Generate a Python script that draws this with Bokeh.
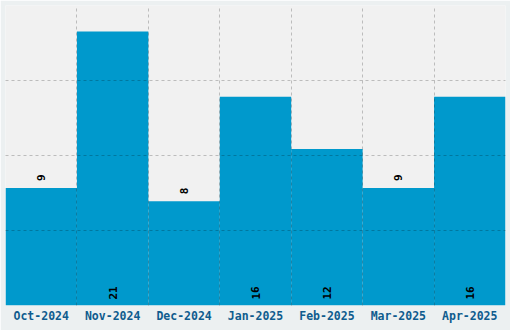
from bokeh.plotting import figure
from bokeh.models import ColumnDataSource, FixedTicker, Grid, LabelSet, Range1d
from bokeh.core.properties import value
from bokeh.embed import file_html
from bokeh.resources import INLINE

months = ["Oct-2024", "Nov-2024", "Dec-2024", "Jan-2025", "Feb-2025", "Mar-2025", "Apr-2025"]
values = [9, 21, 8, 16, 12, 9, 16]

n = len(months)
xs = [i + 0.5 for i in range(n)]
ymax = 23.0
threshold = 10

out_x = [x for x, v in zip(xs, values) if v < threshold]
out_v = [v for v in values if v < threshold]
in_x = [x for x, v in zip(xs, values) if v >= threshold]
in_v = [v for v in values if v >= threshold]

src = ColumnDataSource(dict(x=xs, top=values))
src_out = ColumnDataSource(dict(x=out_x, y=out_v, t=[str(v) for v in out_v]))
src_in = ColumnDataSource(dict(x=in_x, y=[0] * len(in_x), t=[str(v) for v in in_v]))

p = figure(width=510, height=330, output_backend="svg", toolbar_location=None,
           x_range=Range1d(0, n), y_range=Range1d(0, ymax),
           y_axis_location=None,
           min_border_left=5, min_border_right=5, min_border_top=5, min_border_bottom=25)

# drop any default horizontal grid
p.center = [r for r in p.center if not (isinstance(r, Grid) and r.dimension == 1)]

p.background_fill_color = "#f1f1f1"
p.border_fill_color = "#ecf0f1"
p.outline_line_color = None

p.vbar(x="x", top="top", width=1.0, bottom=0, source=src,
       fill_color="#0099cc", line_color=None)

FONT = "DejaVu Sans Mono"

ax = p.xaxis[0]
ax.ticker = FixedTicker(ticks=xs)
ax.major_label_overrides = {x: m for x, m in zip(xs, months)}
ax.axis_line_color = None
ax.major_tick_line_color = None
ax.minor_tick_line_color = None
ax.major_tick_out = 0
ax.major_tick_in = 0
ax.major_label_standoff = 3
ax.major_label_text_font = FONT
ax.major_label_text_font_style = "bold"
ax.major_label_text_font_size = "11.5px"
ax.major_label_text_color = "#0f5c8e"

xg = p.xgrid[0]
xg.ticker = FixedTicker(ticks=list(range(1, n)))
xg.grid_line_color = "black"
xg.grid_line_alpha = 0.22
xg.grid_line_dash = "3 3"
xg.level = "overlay"

yg = Grid(dimension=1, ticker=FixedTicker(ticks=[ymax / 4 * k for k in range(1, 4)]),
          grid_line_color="black", grid_line_alpha=0.22, grid_line_dash="3 3", level="overlay")
p.add_layout(yg)

common = dict(x="x", y="y", text="t", angle=1.5708, text_align="left", text_baseline="middle",
              text_font=value(FONT), text_font_style="bold", text_font_size="11px",
              text_color="black")
p.add_layout(LabelSet(source=src_out, y_offset=7, **common))
p.add_layout(LabelSet(source=src_in, y_offset=6, **common))

open("out.html", "w").write(file_html(p, INLINE))
